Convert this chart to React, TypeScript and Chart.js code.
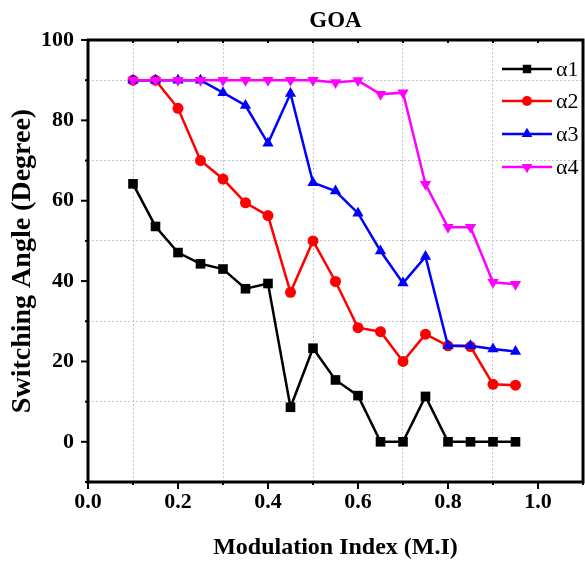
import React, { useEffect, useRef } from "react";
import { Chart, registerables } from "chart.js";

Chart.register(...registerables);

const chartTitle = "GOA";
const xTitle = "Modulation Index (M.I)";
const yTitle = "Switching Angle (Degree)";
const seriesNames = ["α1", "α2", "α3", "α4"];
const modulationIndex = [0.1, 0.15, 0.2, 0.25, 0.3, 0.35, 0.4, 0.45, 0.5, 0.55, 0.6, 0.65, 0.7, 0.75, 0.8, 0.85, 0.9, 0.95];
const alpha1 = [64.2, 53.6, 47.1, 44.3, 43.0, 38.1, 39.4, 8.6, 23.3, 15.4, 11.5, 0, 0, 11.3, 0, 0, 0, 0];
const alpha2 = [90, 90, 83.0, 70.0, 65.4, 59.5, 56.3, 37.2, 50.0, 39.9, 28.4, 27.4, 20.0, 26.8, 23.9, 23.7, 14.3, 14.1];
const alpha3 = [90, 90, 90, 90, 86.9, 83.7, 74.3, 86.7, 64.5, 62.4, 56.9, 47.5, 39.5, 46.1, 23.9, 23.9, 23.1, 22.5];
const alpha4 = [90, 90, 90, 90, 90, 90, 90, 90, 90, 89.4, 89.9, 86.5, 86.9, 64.1, 53.4, 53.4, 39.7, 39.2];
const xTickValues = [0, 0.1, 0.2, 0.3, 0.4, 0.5, 0.6, 0.7, 0.8, 0.9, 1.0, 1.1];
const yTickValues = [-10, 0, 10, 20, 30, 40, 50, 60, 70, 80, 90, 100];

const colors = ["#000000", "#ff0000", "#0000ff", "#ff00ff"];
const shapes = ["rect", "circle", "triangle", "triangle"];
const rotations = [0, 0, 0, 180];
const radii = [6.8, 5.5, 6.5, 6.5];

const SERIF = "'Liberation Serif', 'Times New Roman', serif";

function drawMarker(ctx: CanvasRenderingContext2D, shape: string, x: number, y: number, r: number, rot: number) {
  ctx.beginPath();
  if (shape === "rect") {
    const s = r * Math.SQRT1_2;
    ctx.rect(x - s, y - s, 2 * s, 2 * s);
  } else if (shape === "circle") {
    ctx.arc(x, y, r, 0, Math.PI * 2);
  } else {
    const base = (rot * Math.PI) / 180;
    for (let k = 0; k < 3; k++) {
      const a = base - Math.PI / 2 + (k * 2 * Math.PI) / 3;
      const px = x + Math.cos(a) * r;
      const py = y + Math.sin(a) * r;
      if (k === 0) ctx.moveTo(px, py);
      else ctx.lineTo(px, py);
    }
    ctx.closePath();
  }
  ctx.fill();
}

const framePlugin = {
  id: "frame",
  afterDraw(chart: any) {
    const { ctx, chartArea } = chart;
    const { left, right, top, bottom } = chartArea;
    const xs = chart.scales.x;
    const ys = chart.scales.y;
    ctx.save();
    ctx.fillStyle = "#000";
    ctx.font = `bold 23px ${SERIF}`;
    ctx.textAlign = "center";
    ctx.textBaseline = "middle";
    ctx.fillText(chartTitle, (left + right) / 2, 21);

    ctx.strokeStyle = "#000";
    ctx.lineWidth = 2;
    xTickValues.forEach((v) => {
      const px = xs.getPixelForValue(v);
      const major = Math.round(v * 10) % 2 === 0;
      ctx.beginPath();
      ctx.moveTo(px, bottom);
      ctx.lineTo(px, bottom + (major ? 7 : 3));
      ctx.stroke();
      ctx.beginPath();
      ctx.moveTo(px, top);
      ctx.lineTo(px, top + 3);
      ctx.stroke();
    });
    yTickValues.forEach((v) => {
      const py = ys.getPixelForValue(v);
      const major = Math.round(v / 10) % 2 === 0;
      ctx.beginPath();
      ctx.moveTo(left, py);
      ctx.lineTo(left - (major ? 7 : 3), py);
      ctx.stroke();
    });
    ctx.lineWidth = 3;
    ctx.strokeRect(left, top, right - left, bottom - top);

    const lx1 = 502;
    const lx2 = 552;
    const mx = 527;
    const tx = 556;
    const rowY = [69, 101, 134, 167];
    seriesNames.forEach((name, i) => {
      const y = rowY[i];
      ctx.strokeStyle = colors[i];
      ctx.lineWidth = 2.5;
      ctx.beginPath();
      ctx.moveTo(lx1, y);
      ctx.lineTo(lx2, y);
      ctx.stroke();
      ctx.fillStyle = colors[i];
      const r = i === 0 ? 6 : i === 1 ? 5 : 6.2;
      drawMarker(ctx, shapes[i], mx, y, r, rotations[i]);
      ctx.fillStyle = "#000";
      ctx.font = `22px ${SERIF}`;
      ctx.textAlign = "left";
      ctx.textBaseline = "middle";
      ctx.fillText(name, tx, y + 1);
    });
    ctx.restore();
  },
};

export default function App() {
  const canvasRef = useRef<HTMLCanvasElement | null>(null);

  useEffect(() => {
    document.body.style.margin = "0";
    const canvas = canvasRef.current;
    if (!canvas) return;
    const series = [alpha1, alpha2, alpha3, alpha4];
    const datasets = series.map((vals, i) => ({
      label: seriesNames[i],
      data: modulationIndex.map((x, j) => ({ x, y: vals[j] })),
      borderColor: colors[i],
      backgroundColor: colors[i],
      pointBackgroundColor: colors[i],
      pointBorderColor: colors[i],
      pointBorderWidth: 0,
      pointStyle: shapes[i] as any,
      pointRotation: rotations[i],
      pointRadius: radii[i],
      borderWidth: 2.5,
      tension: 0,
      fill: false,
      order: 3 - i,
    }));

    const GRID = "#c4c4c4";
    const NONE = "rgba(0,0,0,0)";

    const chart = new Chart(canvas, {
      type: "line",
      data: { datasets },
      plugins: [framePlugin],
      options: {
        animation: false,
        responsive: false,
        layout: { autoPadding: false, padding: { left: 0, right: 2, top: 40, bottom: 0 } },
        plugins: {
          legend: { display: false },
          tooltip: { enabled: false },
          title: { display: false },
        },
        scales: {
          x: {
            type: "linear",
            min: 0,
            max: 1.1,
            afterFit: (s: any) => {
              s.height = 80;
              s.paddingLeft = 0;
              s.paddingRight = 0;
            },
            afterBuildTicks: (s: any) => {
              s.ticks = xTickValues.map((v) => ({ value: v }));
            },
            border: { display: false, dash: [2, 2] },
            grid: {
              drawTicks: true,
              tickLength: 7,
              tickColor: NONE,
              lineWidth: 1,
              color: (c: any) => {
                const n = Math.round(c.tick.value * 10);
                return n % 2 === 1 && n < 11 ? GRID : NONE;
              },
            },
            ticks: {
              padding: 0,
              color: "#000",
              font: { family: SERIF, size: 22, weight: "bold" },
              maxRotation: 0,
              autoSkip: false,
              callback: (v: any) => {
                const n = Math.round(Number(v) * 10);
                return n % 2 === 0 && n <= 10 ? (n / 10).toFixed(1) : "";
              },
            },
            title: {
              display: true,
              text: xTitle,
              color: "#000",
              font: { family: SERIF, size: 24, weight: "bold" },
              padding: { top: 0, bottom: 0 },
            },
          },
          y: {
            type: "linear",
            min: -10,
            max: 100,
            afterFit: (s: any) => {
              s.width = 88;
            },
            afterBuildTicks: (s: any) => {
              s.ticks = yTickValues.map((v) => ({ value: v }));
            },
            border: { display: false, dash: [2, 2] },
            grid: {
              drawTicks: false,
              lineWidth: 1,
              color: (c: any) => {
                const n = Math.round(c.tick.value / 10);
                return n > 0 && n % 2 === 1 ? GRID : NONE;
              },
            },
            ticks: {
              padding: 14,
              color: "#000",
              font: { family: SERIF, size: 22, weight: "bold" },
              autoSkip: false,
              callback: (v: any) => {
                const n = Math.round(Number(v));
                return n % 20 === 0 ? String(n) : "";
              },
            },
            title: {
              display: true,
              text: yTitle,
              color: "#000",
              font: { family: SERIF, size: 28, weight: "bold" },
              padding: { top: 6, bottom: 0 },
            },
          },
        },
      },
    });
    return () => chart.destroy();
  }, []);

  return (
    <div style={{ width: 585, height: 562 }}>
      <canvas ref={canvasRef} width={585} height={562} style={{ display: "block" }} />
    </div>
  );
}
